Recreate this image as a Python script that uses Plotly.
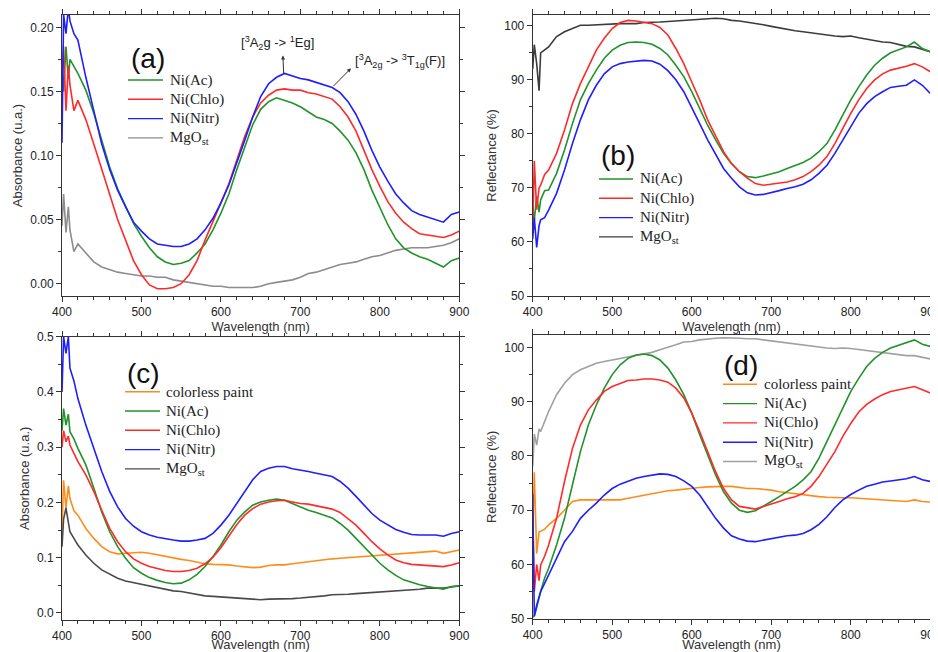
import plotly.graph_objects as go

# ---------------- data ----------------
# denser sampling at the noisy start of the spectra, then every 10 nm
WL = [400, 402, 405, 408, 410, 415] + list(range(420, 901, 10))

# panel (a) absorbance
a_ac = [0.169, 0.150, 0.185, 0.160, 0.175, 0.170,
        0.164, 0.151, 0.133, 0.112, 0.091, 0.074, 0.060, 0.047,
        0.037, 0.028, 0.021, 0.017, 0.015, 0.016, 0.018, 0.024, 0.031, 0.042,
        0.055, 0.070, 0.089, 0.107, 0.124, 0.136, 0.142, 0.145, 0.143, 0.141,
        0.138, 0.134, 0.130, 0.128, 0.125, 0.119, 0.112, 0.102, 0.089, 0.073,
        0.059, 0.046, 0.035, 0.028, 0.024, 0.021, 0.019, 0.016, 0.013, 0.018, 0.020]
a_chlo = [0.160, 0.185, 0.135, 0.170, 0.155, 0.135,
          0.143, 0.128, 0.109, 0.089, 0.068, 0.050, 0.034, 0.018,
          0.007, -0.001, -0.004, -0.004, -0.003, 0.000, 0.007, 0.018, 0.034, 0.048,
          0.063, 0.078, 0.096, 0.115, 0.130, 0.141, 0.147, 0.151, 0.152, 0.151,
          0.151, 0.149, 0.148, 0.146, 0.144, 0.138, 0.130, 0.119, 0.104, 0.089,
          0.076, 0.064, 0.055, 0.048, 0.043, 0.039, 0.038, 0.037, 0.036, 0.038, 0.041]
a_nitr = [0.110, 0.210, 0.195, 0.215, 0.205, 0.195,
          0.190, 0.161, 0.135, 0.109, 0.089, 0.073, 0.060, 0.048,
          0.041, 0.035, 0.031, 0.030, 0.029, 0.029, 0.031, 0.035, 0.042, 0.051,
          0.063, 0.077, 0.094, 0.112, 0.130, 0.146, 0.156, 0.161, 0.164, 0.162,
          0.160, 0.159, 0.157, 0.155, 0.153, 0.149, 0.142, 0.132, 0.119, 0.104,
          0.091, 0.080, 0.070, 0.063, 0.057, 0.054, 0.052, 0.050, 0.048, 0.054, 0.056]
a_mgo = [0.045, 0.070, 0.040, 0.060, 0.042, 0.025,
         0.031, 0.024, 0.017, 0.013, 0.011, 0.009, 0.008, 0.007,
         0.006, 0.006, 0.005, 0.005, 0.003, 0.002, 0.001, 0.000, -0.001, -0.002,
         -0.002, -0.003, -0.003, -0.003, -0.003, -0.002, 0.000, 0.001, 0.002, 0.003,
         0.005, 0.008, 0.009, 0.011, 0.013, 0.015, 0.016, 0.017, 0.019, 0.021,
         0.022, 0.024, 0.026, 0.027, 0.028, 0.028, 0.028, 0.029, 0.030, 0.032, 0.035]

# panel (b) reflectance
b_ac = [66.5, 64.0, 68.5, 65.5, 67.8, 69.5,
        69.6, 72.7, 77.0, 81.9, 86.3, 89.3, 91.8, 94.0,
        95.5, 96.4, 96.9, 97.0, 96.9, 96.6, 95.8, 94.6, 92.7, 90.6,
        87.8, 84.7, 81.6, 78.9, 76.4, 74.5, 73.0, 72.1, 71.9, 72.2,
        72.6, 73.0, 73.6, 74.2, 74.7, 75.5, 76.7, 78.2, 80.7, 83.5,
        86.3, 88.7, 90.9, 92.7, 94.0, 95.0, 95.6, 96.1, 97.0, 95.8, 95.2]
b_chlo = [62.0, 75.0, 66.0, 70.0, 70.5, 72.5,
          73.3, 76.4, 80.7, 85.6, 89.3, 92.4, 95.5, 97.7,
          99.5, 100.6, 101.0, 100.9, 100.7, 100.4, 99.7, 98.3, 95.8, 93.0,
          89.6, 86.3, 82.6, 79.5, 76.7, 74.5, 73.0, 71.8, 70.8, 70.5,
          70.7, 70.8, 71.1, 71.5, 72.1, 73.0, 74.2, 75.8, 78.2, 81.0,
          83.8, 86.3, 88.4, 90.0, 91.1, 91.8, 92.1, 92.5, 93.0, 92.4, 91.5]
b_nitr = [60.5, 64.5, 59.0, 63.0, 64.1, 64.5,
          65.9, 69.0, 73.3, 78.2, 82.6, 86.3, 89.0, 91.1,
          92.4, 93.0, 93.3, 93.5, 93.6, 93.5, 92.9, 91.7, 90.0, 87.8,
          85.0, 81.9, 78.9, 76.1, 73.6, 71.8, 70.2, 69.1, 68.7, 68.8,
          69.1, 69.5, 69.9, 70.2, 70.7, 71.5, 72.7, 74.2, 76.4, 78.9,
          81.3, 83.8, 85.6, 86.9, 87.8, 88.6, 88.8, 89.0, 90.0, 89.0, 87.5]
b_mgo = [92.0, 96.5, 93.0, 88.0, 95.0, 95.5,
         96.1, 98.0, 98.9, 99.5, 100.1, 100.1, 100.2, 100.3,
         100.3, 100.4, 100.4, 100.4, 100.6, 100.6, 100.7, 100.8, 100.9, 101.0,
         101.2, 101.2, 101.3, 101.4, 101.3, 101.0, 100.9, 100.7, 100.4, 100.2,
         99.9, 99.6, 99.3, 99.1, 98.9, 98.7, 98.5, 98.2, 98.1, 98.0,
         98.1, 97.8, 97.5, 97.2, 97.0, 96.9, 96.6, 96.2, 96.1, 95.6, 95.2]

# panel (c) absorbance
c_paint = [0.150, 0.240, 0.190, 0.230, 0.207, 0.185,
           0.177, 0.153, 0.135, 0.120, 0.111, 0.107, 0.108, 0.109,
           0.110, 0.108, 0.105, 0.102, 0.099, 0.097, 0.095, 0.092, 0.089, 0.088,
           0.088, 0.087, 0.085, 0.083, 0.082, 0.083, 0.086, 0.087, 0.087, 0.089,
           0.091, 0.093, 0.095, 0.097, 0.098, 0.099, 0.100, 0.101, 0.103, 0.104,
           0.105, 0.106, 0.107, 0.108, 0.109, 0.110, 0.111, 0.112, 0.108, 0.111, 0.114]
c_ac = [0.330, 0.370, 0.340, 0.360, 0.328, 0.315,
        0.298, 0.268, 0.226, 0.183, 0.147, 0.120, 0.099, 0.082,
        0.072, 0.064, 0.059, 0.055, 0.053, 0.054, 0.060, 0.070, 0.084, 0.102,
        0.123, 0.147, 0.168, 0.183, 0.195, 0.201, 0.204, 0.206, 0.204, 0.198,
        0.192, 0.186, 0.182, 0.177, 0.172, 0.162, 0.150, 0.135, 0.120, 0.105,
        0.090, 0.078, 0.068, 0.060, 0.055, 0.051, 0.048, 0.046, 0.043, 0.048, 0.049]
c_chlo = [0.300, 0.330, 0.310, 0.320, 0.304, 0.290,
          0.274, 0.250, 0.220, 0.186, 0.153, 0.129, 0.111, 0.098,
          0.090, 0.084, 0.080, 0.077, 0.075, 0.075, 0.077, 0.081, 0.089, 0.101,
          0.118, 0.140, 0.160, 0.177, 0.189, 0.197, 0.201, 0.203, 0.204, 0.201,
          0.198, 0.197, 0.194, 0.191, 0.188, 0.182, 0.171, 0.159, 0.144, 0.129,
          0.116, 0.105, 0.096, 0.091, 0.088, 0.087, 0.086, 0.085, 0.084, 0.087, 0.091]
c_nitr = [0.400, 0.500, 0.470, 0.500, 0.443, 0.420,
          0.388, 0.340, 0.298, 0.256, 0.220, 0.192, 0.171, 0.157,
          0.147, 0.141, 0.137, 0.134, 0.132, 0.130, 0.130, 0.132, 0.135, 0.144,
          0.159, 0.177, 0.198, 0.220, 0.241, 0.256, 0.262, 0.265, 0.265, 0.261,
          0.259, 0.256, 0.253, 0.250, 0.247, 0.238, 0.226, 0.211, 0.195, 0.180,
          0.168, 0.159, 0.151, 0.146, 0.142, 0.141, 0.141, 0.141, 0.139, 0.144, 0.147]
c_mgo = [0.120, 0.170, 0.190, 0.160, 0.147, 0.135,
         0.123, 0.105, 0.090, 0.078, 0.070, 0.063, 0.058, 0.055,
         0.052, 0.049, 0.047, 0.043, 0.040, 0.039, 0.036, 0.034, 0.031, 0.030,
         0.029, 0.028, 0.027, 0.025, 0.024, 0.024, 0.025, 0.025, 0.025, 0.026,
         0.027, 0.028, 0.030, 0.031, 0.033, 0.033, 0.034, 0.035, 0.036, 0.037,
         0.037, 0.039, 0.040, 0.041, 0.042, 0.043, 0.045, 0.045, 0.045, 0.047, 0.049]

# panel (d) reflectance
d_paint = [65.0, 77.0, 62.0, 66.0, 66.1, 66.5,
           67.3, 68.5, 70.0, 71.6, 71.9, 71.9, 71.8, 71.9,
           71.8, 71.9, 72.2, 72.5, 72.8, 73.1, 73.4, 73.6, 73.7, 73.9,
           74.0, 74.2, 74.3, 74.4, 74.4, 74.4, 74.2, 74.0, 74.0, 73.9,
           73.7, 73.4, 73.2, 73.1, 72.9, 72.7, 72.5, 72.4, 72.3, 72.3,
           72.3, 72.2, 72.1, 71.9, 71.8, 71.7, 71.6, 71.6, 71.9, 71.6, 71.5]
d_ac = [50.3, 50.5, 52.0, 54.0, 55.0, 57.5,
        59.3, 63.6, 68.5, 74.7, 80.8, 85.7, 89.4, 92.5,
        95.0, 96.8, 98.0, 98.6, 98.8, 98.5, 97.7, 96.2, 94.0, 91.3,
        87.9, 83.9, 80.2, 76.5, 73.4, 71.3, 70.0, 69.6, 69.9, 70.7,
        71.6, 72.5, 73.4, 74.4, 75.6, 77.1, 79.6, 82.7, 85.7, 88.8,
        91.9, 94.3, 96.5, 98.0, 99.1, 99.9, 100.4, 100.8, 101.4, 100.6, 100.2]
d_chlo = [70.0, 55.0, 60.0, 57.0, 59.9, 61.5,
          63.6, 68.5, 75.3, 81.4, 85.7, 88.5, 90.3, 91.9,
          92.8, 93.4, 93.9, 94.0, 94.2, 94.2, 94.0, 93.6, 92.5, 90.7,
          87.9, 84.5, 80.8, 77.1, 74.0, 71.9, 70.7, 70.4, 70.2, 70.7,
          71.1, 71.6, 72.1, 72.5, 73.1, 74.4, 76.2, 78.4, 80.8, 83.6,
          86.0, 88.1, 89.5, 90.5, 91.3, 91.9, 92.2, 92.4, 92.8, 92.2, 91.6]
d_nitr = [73.0, 50.5, 52.5, 54.0, 55.0, 56.5,
          58.1, 61.1, 64.2, 66.1, 68.5, 70.0, 71.3, 72.8,
          74.0, 74.8, 75.4, 75.9, 76.2, 76.5, 76.7, 76.6, 76.2, 75.4,
          74.4, 72.8, 70.7, 68.5, 66.7, 65.3, 64.7, 64.3, 64.2, 64.5,
          64.8, 65.1, 65.3, 65.4, 65.7, 66.4, 67.4, 68.8, 70.5, 71.9,
          72.9, 73.7, 74.4, 74.8, 75.2, 75.4, 75.6, 75.8, 76.2, 75.6, 75.3]
d_mgo = [78.0, 84.0, 82.0, 85.0, 84.5, 86.5,
         88.2, 91.3, 93.4, 95.0, 95.9, 96.5, 97.1, 97.4,
         97.7, 98.0, 98.3, 98.5, 98.8, 99.1, 99.6, 100.0, 100.5, 101.0,
         101.1, 101.4, 101.6, 101.7, 101.8, 101.8, 101.7, 101.6, 101.6, 101.4,
         101.2, 101.0, 100.8, 100.6, 100.5, 100.3, 100.1, 99.9, 99.8, 99.9,
         99.8, 99.6, 99.4, 99.3, 99.1, 98.8, 98.6, 98.5, 98.5, 98.2, 97.9]

# ---------------- styling ----------------
GREEN = "#22922a"
RED = "#ff2a2a"
BLUE = "#1e1eff"
ORANGE = "#ff8c1a"
GRAY_A = "#8c8c8c"
GRAY_B = "#3c3c3c"
GRAY_C = "#4a4a4a"
GRAY_D = "#a0a0a0"

SANS = "Liberation Sans, Arial, sans-serif"
SERIF = "Liberation Serif, Times New Roman, serif"
AX = "#333333"
LW = 1.6

# the page body adds an 8 px margin, so the figure is drawn 8 px in from the window corner
OFF = 8
W, H = 938 - OFF, 652 - OFF


def fx(px):  # window pixel -> paper x
    return (px - OFF) / W


def fy(py):  # window pixel -> paper y
    return 1 - (py - OFF) / H


fig = go.Figure()

MGO = "MgO<sub>st</sub>"
panels = [
    ("x", "y", [(a_mgo, MGO, GRAY_A), (a_ac, "Ni(Ac)", GREEN),
                (a_chlo, "Ni(Chlo)", RED), (a_nitr, "Ni(Nitr)", BLUE)]),
    ("x2", "y2", [(b_mgo, MGO, GRAY_B), (b_ac, "Ni(Ac)", GREEN),
                  (b_chlo, "Ni(Chlo)", RED), (b_nitr, "Ni(Nitr)", BLUE)]),
    ("x3", "y3", [(c_paint, "colorless paint", ORANGE), (c_mgo, MGO, GRAY_C),
                  (c_ac, "Ni(Ac)", GREEN), (c_chlo, "Ni(Chlo)", RED), (c_nitr, "Ni(Nitr)", BLUE)]),
    ("x4", "y4", [(d_paint, "colorless paint", ORANGE), (d_mgo, MGO, GRAY_D),
                  (d_ac, "Ni(Ac)", GREEN), (d_chlo, "Ni(Chlo)", RED), (d_nitr, "Ni(Nitr)", BLUE)]),
]
for xa, ya, series in panels:
    for y, name, col in series:
        fig.add_trace(go.Scatter(x=WL, y=y, mode="lines", showlegend=False, name=name,
                                 line=dict(color=col, width=LW),
                                 xaxis=xa, yaxis=ya, hoverinfo="skip"))

XDOM_L = [fx(62), fx(459.3)]
XDOM_R = [fx(532.7), fx(930.3)]
YDOM_T = [fy(296), fy(15)]
YDOM_C = [fy(620), fy(336.7)]
YDOM_D = [fy(618.7), fy(335)]

tickfont = dict(family=SANS, size=12, color="#222")
titlefont = dict(family=SANS, size=13, color="#333")


def xaxis(dom, anchor):
    return dict(domain=dom, anchor=anchor, range=[400, 900], dtick=100, tick0=0,
                ticks="outside", ticklen=5, tickwidth=1, tickcolor=AX,
                showline=True, mirror="ticks", linecolor=AX, linewidth=1, showgrid=False,
                zeroline=False, tickfont=tickfont, automargin=False,
                ticklabeloverflow="allow",
                minor=dict(dtick=20, tick0=0, ticks="outside", ticklen=3, tickcolor=AX, showgrid=False),
                title=dict(text="Wavelength (nm)", font=titlefont, standoff=0))


def yaxis(dom, anchor, rng, dt, mdt, fmt, title):
    return dict(domain=dom, anchor=anchor, range=rng, dtick=dt, tick0=0,
                tickformat=fmt, ticks="outside", ticklen=5, tickwidth=1,
                tickcolor=AX, showline=True, mirror="ticks", linecolor=AX, linewidth=1,
                showgrid=False, zeroline=False, tickfont=tickfont, automargin=False,
                ticklabeloverflow="allow",
                minor=dict(dtick=mdt, tick0=0, ticks="outside", ticklen=3, tickcolor=AX, showgrid=False),
                title=dict(text=title, font=titlefont, standoff=4))


RA = [-0.0096, 0.2096]
RB = [50, 102]
RC = [-0.0127, 0.5]
RD = [50, 102.3]

fig.update_layout(
    template="none",
    width=W, height=H, margin=dict(l=0, r=0, t=0, b=0, autoexpand=False),
    paper_bgcolor="white", plot_bgcolor="white", showlegend=False,
    font=dict(family=SANS, color="#222"),
    xaxis=xaxis(XDOM_L, "y"),
    yaxis=yaxis(YDOM_T, "x", RA, 0.05, 0.025, ".2f", "Absorbance (u.a.)"),
    xaxis2=xaxis(XDOM_R, "y2"),
    yaxis2=yaxis(YDOM_T, "x2", RB, 10, 5, "d", "Reflectance (%)"),
    xaxis3=xaxis(XDOM_L, "y3"),
    yaxis3=yaxis(YDOM_C, "x3", RC, 0.1, 0.05, ".1f", "Absorbance (u.a.)"),
    xaxis4=xaxis(XDOM_R, "y4"),
    yaxis4=yaxis(YDOM_D, "x4", RD, 10, 5, "d", "Reflectance (%)"),
)

# ---------------- hand-placed legends (pixel layout of the reference) ----------------
legfont = dict(family=SERIF, size=15, color="#222")
LEG_ORDER = ["colorless paint", "Ni(Ac)", "Ni(Chlo)", "Ni(Nitr)", MGO]
legend_boxes = [  # first-row centre y, line x0, line x1, text x
    (80.0, 128, 163, 168),
    (179.0, 599, 633, 638),
    (391.7, 125, 160, 164),
    (384.3, 723, 757, 762),
]
ROW = 19.3
for (xa, ya, series), (y0, lx0, lx1, tx) in zip(panels, legend_boxes):
    items = sorted(series, key=lambda s: LEG_ORDER.index(s[1]))
    for i, (_, name, col) in enumerate(items):
        yc = y0 + i * ROW
        fig.add_shape(type="line", xref="paper", yref="paper",
                      x0=fx(lx0), x1=fx(lx1), y0=fy(yc), y1=fy(yc),
                      line=dict(color=col, width=1.4))
        fig.add_annotation(text=name, x=fx(tx), y=fy(yc), xref="paper", yref="paper",
                           xanchor="left", yanchor="middle", showarrow=False, font=legfont)

panel_font = dict(family=SANS, size=28, color="#111")
for txt, px, py in [("(a)", 147.5, 58.5), ("(b)", 617.5, 155.5),
                    ("(c)", 143.5, 373.5), ("(d)", 740.5, 365.5)]:
    fig.add_annotation(text=txt, x=fx(px), y=fy(py), xref="paper", yref="paper",
                       xanchor="center", yanchor="middle", showarrow=False, font=panel_font)

ann_font = dict(family=SANS, size=13, color="#222")
fig.add_annotation(text="[<sup>3</sup>A<sub>2</sub>g -> <sup>1</sup>Eg]", x=671, y=0.188,
                   xref="x", yref="y", showarrow=False, font=ann_font)
fig.add_annotation(text="[<sup>3</sup>A<sub>2g</sub> -> <sup>3</sup>T<sub>1g</sub>(F)]",
                   x=825, y=0.174, xref="x", yref="y", showarrow=False, font=ann_font)
fig.add_annotation(text="", x=678, y=0.178, ax=679, ay=0.163, axref="x", ayref="y",
                   xref="x", yref="y", showarrow=True, arrowhead=2, arrowsize=0.8,
                   arrowwidth=1, arrowcolor="#333")
fig.add_annotation(text="", x=763.7, y=0.168, ax=739.8, ay=0.153, axref="x", ayref="y",
                   xref="x", yref="y", showarrow=True, arrowhead=2, arrowsize=0.8,
                   arrowwidth=1, arrowcolor="#333")

fig.write_html("out.html")
